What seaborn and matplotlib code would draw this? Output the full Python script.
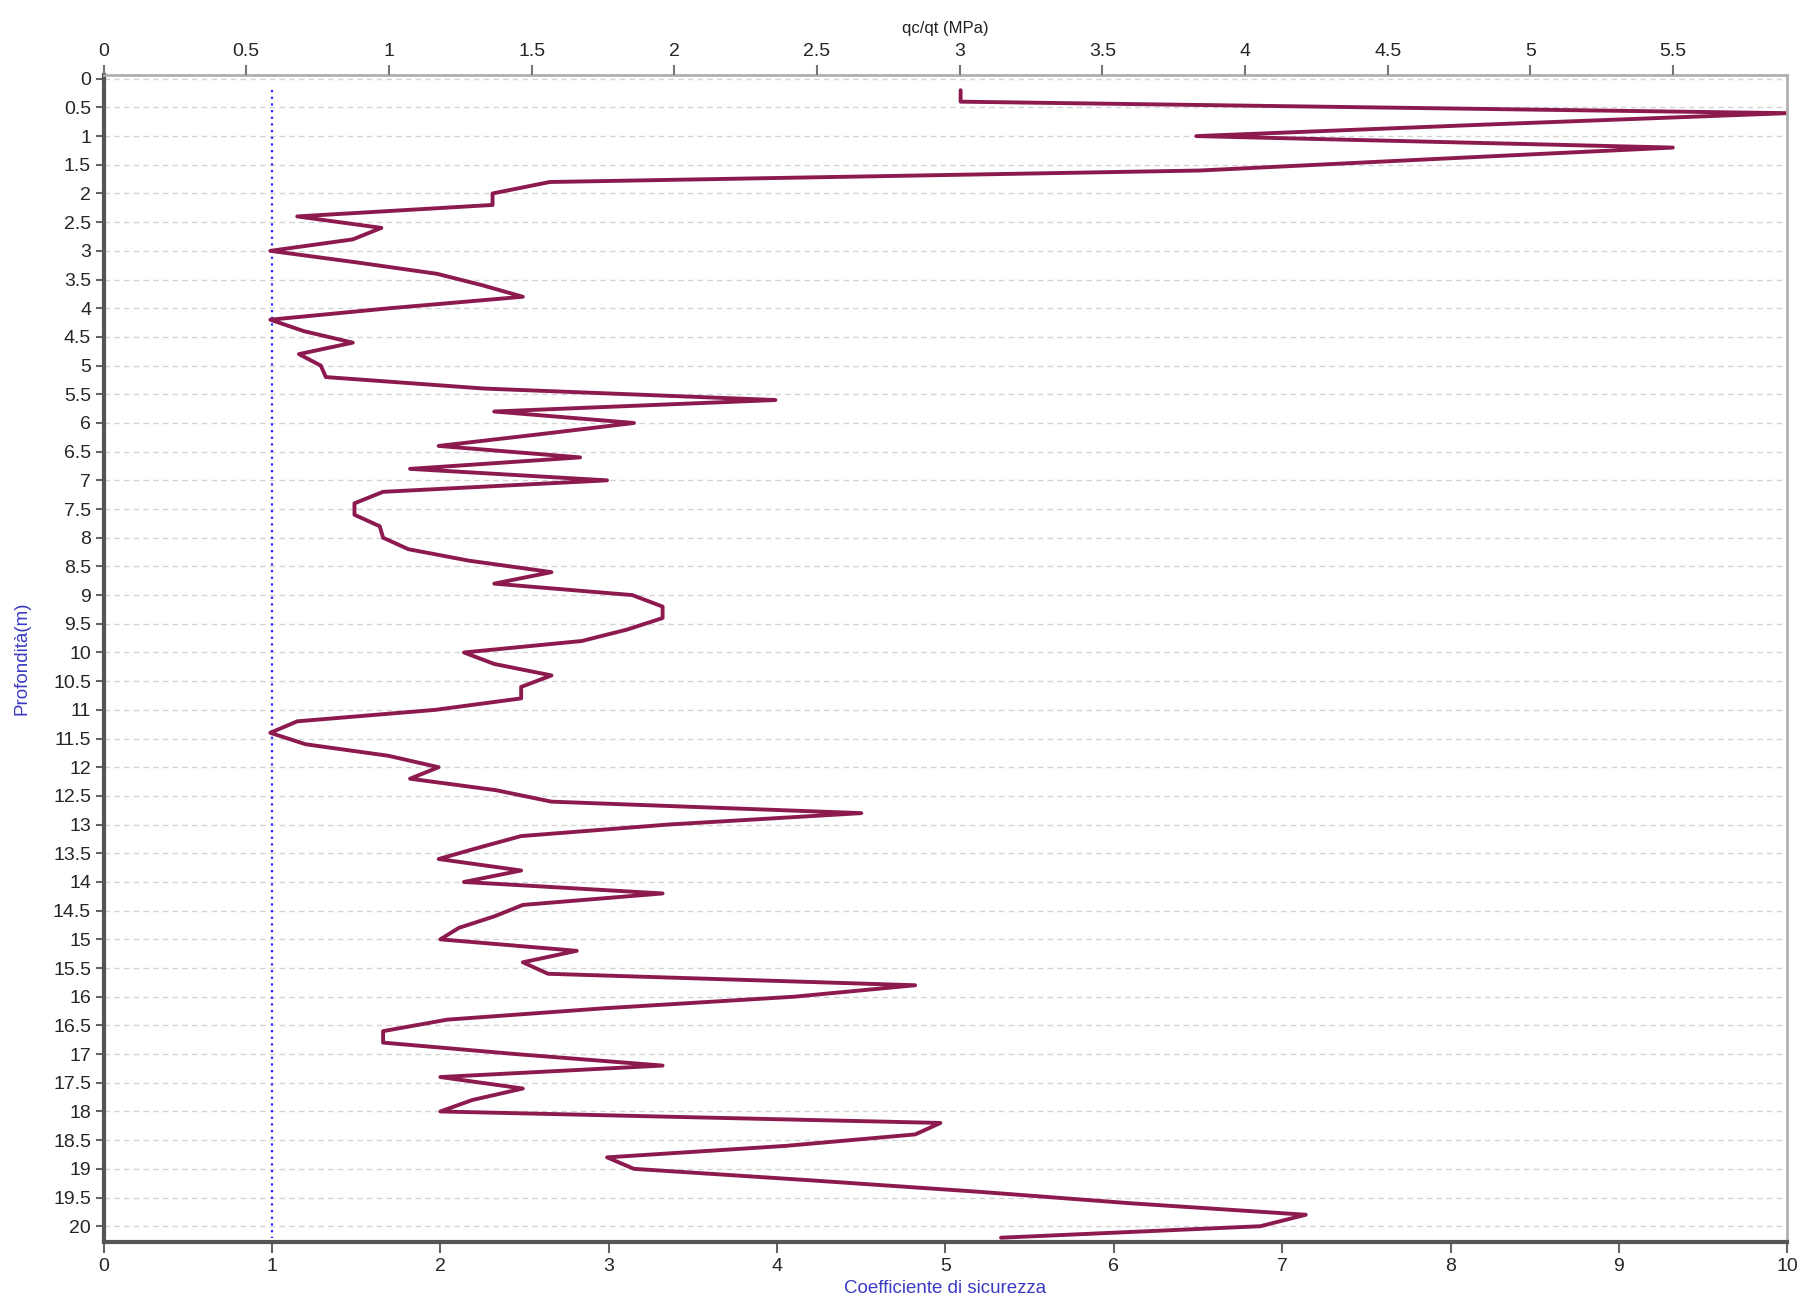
import numpy as np
import pandas as pd
import matplotlib
matplotlib.use("Agg")
import matplotlib.pyplot as plt
import seaborn as sns

# ---- data ----
depth = [0.2, 0.4, 0.6, 0.8, 1.0, 1.2, 1.4, 1.6, 1.8, 2.0, 2.2, 2.4, 2.6, 2.8, 3.0,
         3.2, 3.4, 3.6, 3.8, 4.0, 4.2, 4.4, 4.6, 4.8, 5.0, 5.2, 5.4, 5.6, 5.8, 6.0,
         6.2, 6.4, 6.6, 6.8, 7.0, 7.2, 7.4, 7.6, 7.8, 8.0, 8.2, 8.4, 8.6, 8.8, 9.0,
         9.2, 9.4, 9.6, 9.8, 10.0, 10.2, 10.4, 10.6, 10.8, 11.0, 11.2, 11.4, 11.6, 11.8, 12.0,
         12.2, 12.4, 12.6, 12.8, 13.0, 13.2, 13.4, 13.6, 13.8, 14.0, 14.2, 14.4, 14.6, 14.8, 15.0,
         15.2, 15.4, 15.6, 15.8, 16.0, 16.2, 16.4, 16.6, 16.8, 17.0, 17.2, 17.4, 17.6, 17.8, 18.0,
         18.2, 18.4, 18.6, 18.8, 19.0, 19.2, 19.4, 19.6, 19.8, 20.0, 20.2]
safety = [5.09, 5.09, 10.0, 8.2, 6.49, 9.32, 7.9, 6.51, 2.65, 2.31, 2.31, 1.15, 1.65, 1.48, 0.99,
          1.5, 1.98, 2.25, 2.49, 1.70, 0.99, 1.19, 1.48, 1.16, 1.29, 1.32, 2.26, 3.99, 2.32, 3.15,
          2.58, 1.99, 2.83, 1.82, 2.99, 1.66, 1.49, 1.49, 1.64, 1.66, 1.81, 2.17, 2.66, 2.32, 3.14,
          3.32, 3.32, 3.11, 2.84, 2.14, 2.32, 2.66, 2.48, 2.48, 1.97, 1.15, 0.99, 1.20, 1.69, 1.99,
          1.82, 2.33, 2.66, 4.50, 3.35, 2.48, 2.23, 1.99, 2.48, 2.14, 3.32, 2.49, 2.32, 2.11, 2.00,
          2.81, 2.49, 2.64, 4.82, 4.10, 2.98, 2.04, 1.66, 1.66, 2.45, 3.32, 2.00, 2.49, 2.19, 2.00,
          4.97, 4.82, 4.05, 2.99, 3.15, 4.20, 5.20, 6.10, 7.14, 6.87, 5.33]
limit_x = [1.0, 1.0]
limit_depth = [0.2, 20.2]

y_ticks = [i * 0.5 for i in range(41)]
y_labels = [("%g" % v) for v in y_ticks]
bottom_ticks = list(range(0, 11))
top_ticks = [i * 0.5 for i in range(12)]
top_labels = [("%g" % v) for v in top_ticks]

df = pd.DataFrame({"depth": depth, "safety": safety})
lim = pd.DataFrame({"depth": limit_depth, "x": limit_x})

sns.set_style("white")
plt.rcParams["font.family"] = ["Liberation Sans", "DejaVu Sans"]

fig = plt.figure(figsize=(18.05, 13.02), dpi=100)
ax = fig.add_axes([0.0574, 0.0463, 0.9328, 0.8961])

LINE = "#8c1a4f"
BLUE = "#3a3ac4"

sns.lineplot(data=lim, x="x", y="depth", sort=False, estimator=None, ax=ax,
             color="#2a2aff", linestyle=(0, (1, 2)), linewidth=1.6)
sns.lineplot(data=df, x="safety", y="depth", sort=False, estimator=None, ax=ax,
             color=LINE, linewidth=2.8)

ax.set_xlim(0, 10)
ax.set_ylim(20.27, -0.065)
ax.set_yticks(y_ticks)
ax.set_yticklabels(y_labels)
ax.set_xticks(bottom_ticks)
ax.set_xticklabels([str(t) for t in bottom_ticks])
for yv in y_ticks:
    ax.axhline(yv, color="#d4d4d4", linestyle=(0, (4, 3)), linewidth=1.0, zorder=0)

ax.set_xlabel("Coefficiente di sicurezza", color=BLUE, fontsize=13.5, labelpad=3)
ax.set_ylabel("Profondità(m)", color=BLUE, fontsize=13.5, labelpad=16)

ax.tick_params(axis="y", direction="out", length=6, width=1.5, color="#666666",
               labelsize=14, pad=3, left=True)
ax.tick_params(axis="x", direction="out", length=8, width=1.5, color="#666666",
               labelsize=14, pad=4, bottom=True)

for side in ["left", "bottom"]:
    ax.spines[side].set_color("#555555")
    ax.spines[side].set_linewidth(3.0)
for side in ["top", "right"]:
    ax.spines[side].set_color("#b0b0b0")
    ax.spines[side].set_linewidth(2.0)

top = ax.twiny()
top.set_xlim(0, 5.9)
top.set_xticks(top_ticks)
top.set_xticklabels(top_labels)
top.tick_params(axis="x", direction="out", length=7, width=1.5, color="#777777",
                labelsize=14, pad=4, top=True)
top.set_xlabel("qc/qt (MPa)", fontsize=12, color="#222222", labelpad=7)
for s in top.spines.values():
    s.set_visible(False)

fig.savefig("out.png", dpi=100)
